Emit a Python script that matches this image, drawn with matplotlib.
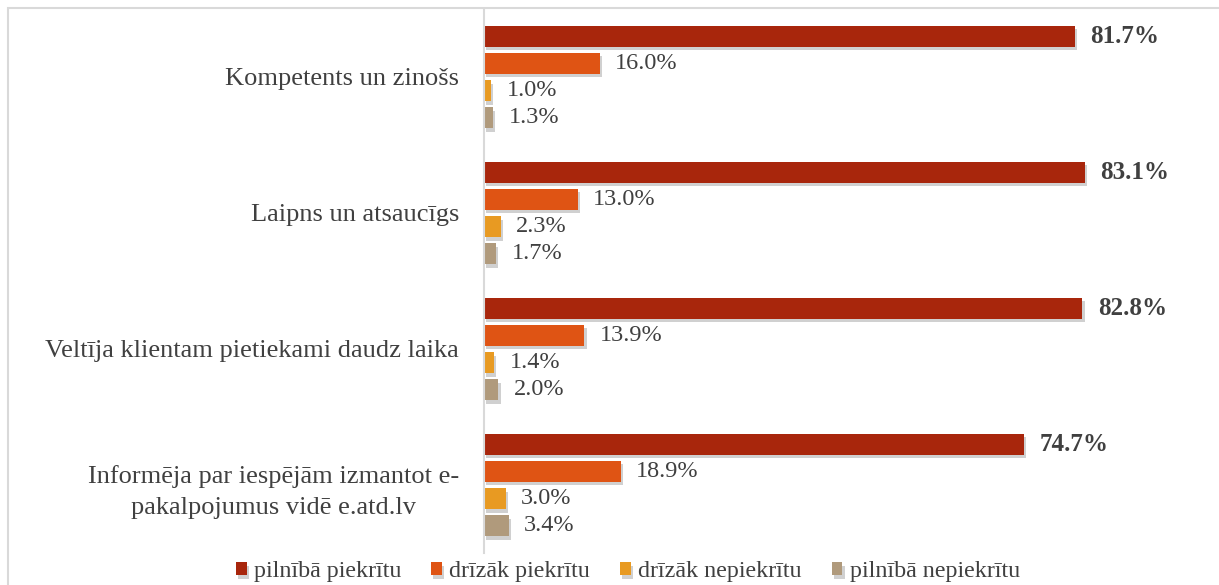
import matplotlib.pyplot as plt
import matplotlib.patheffects as pe
from matplotlib.patches import Rectangle
import numpy as np

plt.rcParams['font.family'] = ['Liberation Serif', 'DejaVu Serif']

categories = ["Kompetents un zinošs", "Laipns un atsaucīgs",
              "Veltīja klientam pietiekami daudz laika",
              "Informēja par iespējām izmantot e-\npakalpojumus vidē e.atd.lv"]
series = ["pilnībā piekrītu", "drīzāk piekrītu", "drīzāk nepiekrītu", "pilnībā nepiekrītu"]
values = [
    [81.7, 83.1, 82.8, 74.7],
    [16.0, 13.0, 13.9, 18.9],
    [1.0, 2.3, 1.4, 3.0],
    [1.3, 1.7, 2.0, 3.4],
]
colors = ["#A8260C", "#DF5414", "#E89A22", "#B09A7C"]

fig = plt.figure(figsize=(12.19, 5.85), dpi=100)
ax = fig.add_axes([484 / 1219, 1 - 553 / 585, 1 - 484 / 1219 - 0.01, 544 / 585])

y = np.arange(len(categories))
offsets = [-0.3, -0.1, 0.1, 0.3]
shadow = [pe.SimplePatchShadow(offset=(1.5, -2.5), alpha=0.25, shadow_rgbFace="#444444"), pe.Normal()]
for i, s in enumerate(series):
    bars = ax.barh(y + offsets[i], values[i], height=0.155, color=colors[i], label=s)
    for b in bars:
        b.set_path_effects(shadow)
    for b, v in zip(bars, values[i]):
        ax.annotate(f"{v:.1f}%", (b.get_width(), b.get_y() + b.get_height() / 2),
                    xytext=(11, 0), textcoords="offset points", va="center", ha="left",
                    fontsize=18 if i == 0 else 17.5, color="#404040",
                    fontweight="bold" if i == 0 else "normal")

ax.set_xlim(0, 100)
ax.set_ylim(3.5, -0.5)
ax.set_yticks(y)
ax.set_yticklabels(categories, fontsize=19, color="#404040", multialignment="center",
                   linespacing=1.55)
ax.tick_params(axis="y", length=0, pad=18)
ax.set_xticks([])
for sp in ["top", "right", "bottom"]:
    ax.spines[sp].set_visible(False)
ax.spines["left"].set_color("#D9D9D9")
ax.spines["left"].set_linewidth(1.5)

fig.patches.append(Rectangle((8 / 1219, -0.1), 1.2, 1 - 8 / 585 + 0.1, transform=fig.transFigure,
                             fill=False, edgecolor="#D9D9D9", linewidth=1.5))

fig.legend(loc="center", bbox_to_anchor=(0.515, 1 - 572 / 585), ncol=4, frameon=False,
           fontsize=17.3, handlelength=0.45, handleheight=0.45, handletextpad=0.3,
           columnspacing=1.25, labelcolor="#404040")

fig.savefig("out.png", dpi=100)
